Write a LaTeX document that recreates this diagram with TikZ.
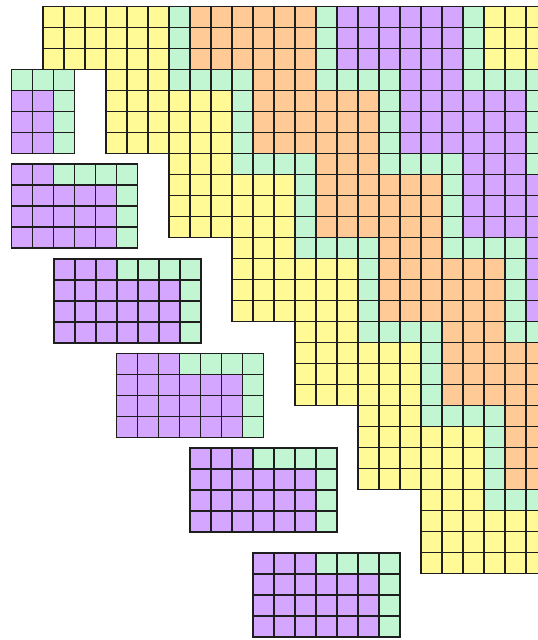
\documentclass[tikz,border=0pt]{standalone}
\definecolor{cy}{RGB}{255,250,150}
\definecolor{co}{RGB}{255,202,150}
\definecolor{cg}{RGB}{194,246,210}
\definecolor{cp}{RGB}{212,166,255}
\definecolor{gl}{RGB}{30,30,30}
\tikzset{cell/.style={draw=gl,line width=1.1pt}}
\newcommand\mypiece[3]{%
 \foreach \pr in {0,...,3}{%
  \foreach \pc in {#3,...,6}{%
   \pgfmathtruncatemacro\pgreen{((\pr==0 && \pc>=3) || \pc==6) ? 1 : 0}%
   \ifnum\pgreen=1 \def\pcol{cg}\else\def\pcol{cp}\fi
   \filldraw[cell,fill=\pcol] ({#1+(\pc-#3)*21},{#2+\pr*21}) rectangle ++(21,21);
  }}}
\begin{document}
\begin{tikzpicture}[x=1pt,y=-1pt]
\useasboundingbox (0,0) rectangle (538,640);
\begin{scope}
\clip (0,0) rectangle (538,640);
\foreach \ry in {0,...,26}{%
  \pgfmathtruncatemacro\bk{floor((\ry+1)/4)}%
  \pgfmathtruncatemacro\trw{mod(\ry+1,4)}%
  \pgfmathtruncatemacro\lc{3*\bk}%
  \foreach \cx in {\lc,...,23}{%
    \pgfmathtruncatemacro\relc{\cx-\lc}%
    \pgfmathtruncatemacro\tix{mod(floor(\relc/7),3)}%
    \pgfmathtruncatemacro\tcl{mod(\relc,7)}%
    \pgfmathtruncatemacro\isg{((\trw==0 && \tcl>=3) || \tcl==6) ? 1 : 0}%
    \ifnum\isg=1 \def\mc{cg}\else\ifcase\tix\def\mc{cy}\or\def\mc{co}\or\def\mc{cp}\fi\fi
    \filldraw[cell,fill=\mc] ({43+\cx*21},{6.5+\ry*21}) rectangle ++(21,21);
  }
}
\end{scope}
\mypiece{11.5}{69.5}{4}
\mypiece{11.5}{164}{1}
\mypiece{54}{259}{0}
\mypiece{116.5}{353.5}{0}
\mypiece{190}{448}{0}
\mypiece{253}{553}{0}
\end{tikzpicture}
\end{document}
